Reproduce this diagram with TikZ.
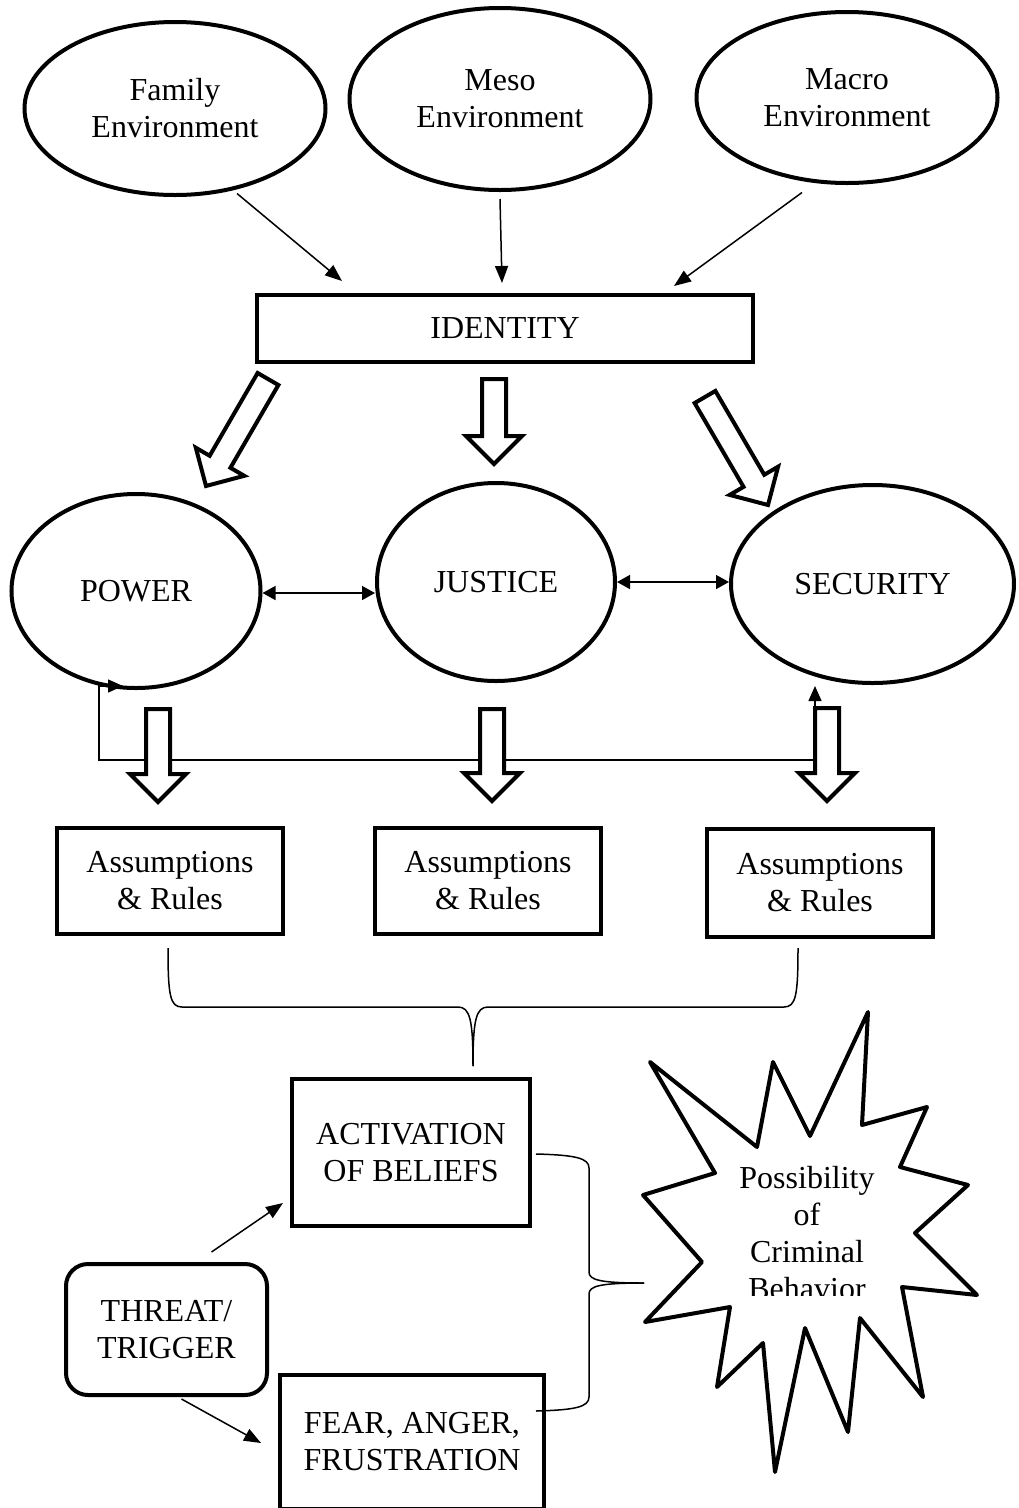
\documentclass[tikz,border=0pt]{standalone}
\usepackage{fontspec}
\setmainfont{Liberation Serif}
\usetikzlibrary{shapes.geometric,arrows.meta,calc}

\tikzset{
  txt/.style={font=\fontsize{32}{37}\selectfont, align=center, inner sep=0pt},
  oval/.style={txt, draw, ellipse, line width=4pt},
  box/.style={txt, draw, rectangle, line width=4pt},
  thinline/.style={line width=1.5pt},
  conn/.style={thinline, -{Triangle[length=17pt,width=13pt]}},
  twoway/.style={thinline, {Triangle[length=13pt,width=14pt]}-{Triangle[length=13pt,width=14pt]}},
  loopback/.style={thinline, {Triangle[length=15pt,width=13pt]}-{Triangle[length=15pt,width=13pt]}},
  % hollow block arrow from the tail centre to the tip
  hollow/.style={draw, line width=4pt, fill=white, line join=miter, miter limit=20,
    to path={
      let \p1=(\tikztostart), \p2=(\tikztotarget),
          \n1={atan2(\y2-\y1,\x2-\x1)},
          \n2={veclen(\x2-\x1,\y2-\y1)}
      in {[shift={(\p1)}, rotate=\n1, x=1pt, y=1pt]
        (0,-12) -- ({\n2-28},-12) -- ({\n2-28},-28) -- (\n2,0)
        -- ({\n2-28},28) -- ({\n2-28},12) -- (0,12) -- cycle}
    }},
}

\begin{document}
\begin{tikzpicture}[x=1pt,y=-1pt]
\useasboundingbox (0,0) rectangle (1019,1508);

% environments
\node[oval, minimum width=301pt, minimum height=173pt] (family) at (175,108.5) {Family\\Environment};
\node[oval, minimum width=301pt, minimum height=182pt] (meso) at (500,99) {Meso\\Environment};
\node[oval, minimum width=301pt, minimum height=171pt] (macro) at (847,97.5) {Macro\\Environment};

% identity
\node[box, minimum width=496pt, minimum height=67pt] (identity) at (505,328.5) {IDENTITY};

\draw[conn] ($(family.center)+(62,85)$) -- ($(identity.north west)+(87,-12)$);
\draw[conn] ($(meso.center)+(0,100)$) -- ($(identity.north)+(-3,-10)$);
\draw[conn] ($(macro.center)+(-45,95)$) -- ($(identity.north east)+(-81,-7)$);

% core needs
\node[oval, minimum width=249pt, minimum height=194pt] (power) at (136,591) {POWER};
\node[oval, minimum width=238pt, minimum height=198pt] (justice) at (496,582) {JUSTICE};
\node[oval, minimum width=283pt, minimum height=198pt] (security) at (872.5,584) {SECURITY};

\draw[twoway] (power.east) ++(0,2) -- ($(power.east -| justice.west)+(0,2)$);
\draw[twoway] (justice.east) -- (justice.east -| security.west);

% feedback line between power and security
\coordinate (fbPower) at (123,686);
\coordinate (fbSec) at (815,686);
\draw[loopback] (fbPower) -- (99,686) -- (99,760) -- (815,760) -- (fbSec);

% block arrows from identity to the needs
\coordinate (h1a) at (268,379);  \coordinate (h1b) at (206,486);
\coordinate (h2a) at (494,379);  \coordinate (h2b) at (494,464);
\coordinate (h3a) at (705,397);  \coordinate (h3b) at (768,505);
\draw[hollow] (h1a) to (h1b);
\draw[hollow] (h2a) to (h2b);
\draw[hollow] (h3a) to (h3b);

% block arrows from the needs to their rules
\coordinate (h4a) at (158,709);  \coordinate (h4b) at (158,802);
\coordinate (h5a) at (492,709);  \coordinate (h5b) at (492,801);
\coordinate (h6a) at (827,708);  \coordinate (h6b) at (827,801);
\draw[hollow] (h4a) to (h4b);
\draw[hollow] (h5a) to (h5b);
\draw[hollow] (h6a) to (h6b);

% assumptions and rules
\node[box, minimum width=226pt, minimum height=106pt] (rules1) at (170,881) {Assumptions\\\& Rules};
\node[box, minimum width=226pt, minimum height=106pt] (rules2) at (488,881) {Assumptions\\\& Rules};
\node[box, minimum width=226pt, minimum height=108pt] (rules3) at (820,883) {Assumptions\\\& Rules};

% brace gathering the rules
\coordinate (braceTip) at (473,1066);
\draw[thinline] (168,948) .. controls (168,995) and (170,1007) .. (182,1007)
  -- (458,1007) .. controls (470,1007) and (473,1020) .. (braceTip);
\draw[thinline] (798,948) .. controls (798,995) and (796,1007) .. (784,1007)
  -- (488,1007) .. controls (476,1007) and (473,1020) .. (braceTip);

% activation, trigger, emotions
\node[box, minimum width=238pt, minimum height=147pt] (act) at (411,1152.5) {ACTIVATION\\OF BELIEFS};
\node[box, rounded corners=22pt, minimum width=201pt, minimum height=131pt] (threat) at (166.5,1329.5) {THREAT/\\TRIGGER};
\node[box, minimum width=264pt, minimum height=134pt] (fear) at (412,1442) {FEAR, ANGER,\\FRUSTRATION};

\draw[conn] ($(threat.north)+(45,-10)$) -- ($(act.south west)+(-7,-25)$);
\draw[conn] ($(threat.south)+(15,2)$) -- ($(fear.west)+(-17,1)$);

% brace joining activation and emotions
\coordinate (sbTip) at (644,1283);
\draw[thinline] (536,1154) .. controls (575,1155) and (589,1158) .. (589,1168)
  -- (589,1272) .. controls (589,1280) and (600,1283) .. (sbTip);
\draw[thinline] (536,1411) .. controls (575,1410) and (589,1407) .. (589,1397)
  -- (589,1294) .. controls (589,1286) and (600,1283) .. (sbTip);

% outcome burst
\draw[line width=4pt, line join=round]
  (868,1012) -- (862,1125) -- (927,1107) -- (900,1167) -- (968,1185)
  -- (915,1233) -- (977,1295) -- (902,1287) -- (923,1397) -- (860,1318)
  -- (848,1432) -- (805,1328) -- (775,1472) -- (763,1343) -- (717,1387)
  -- (730,1307) -- (645,1322) -- (702,1262) -- (643,1195) -- (715,1173)
  -- (650,1062) -- (757,1147) -- (773,1062) -- (810,1136) -- cycle;
\begin{scope}
  \clip (690,1140) rectangle (930,1295);
  \node[txt] (crime) at (807,1233.5) {Possibility\\of\\Criminal\\Behavior};
\end{scope}

\end{tikzpicture}
\end{document}
